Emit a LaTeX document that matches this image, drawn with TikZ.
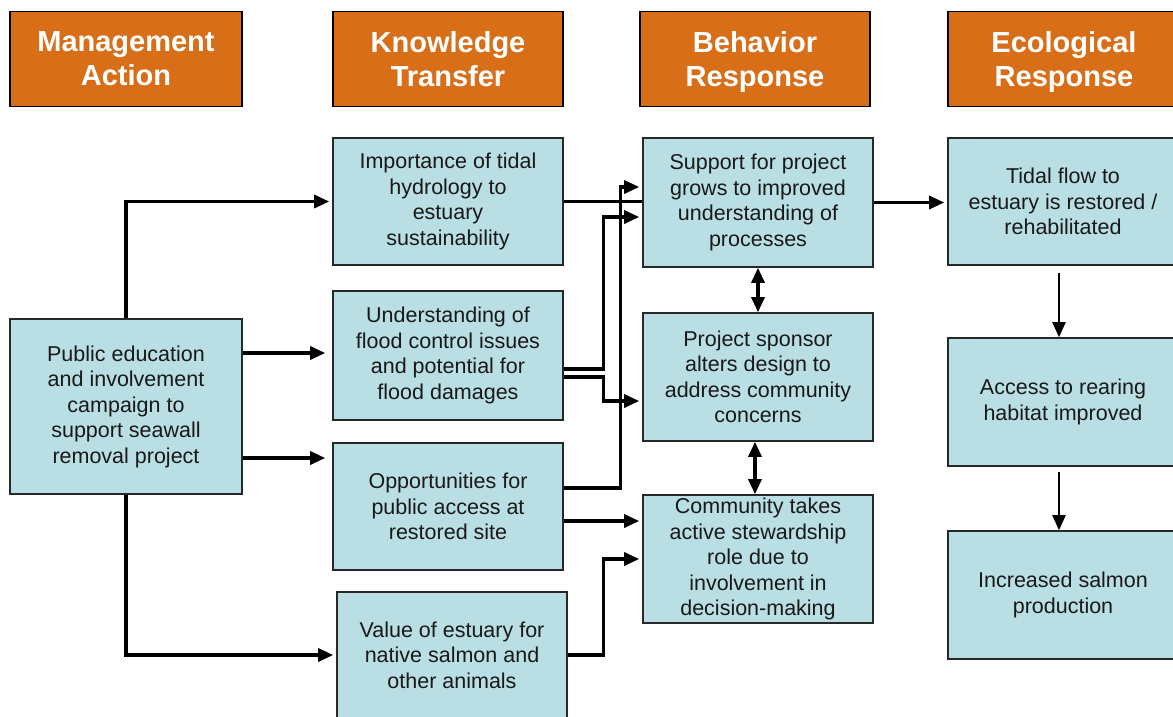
\documentclass[tikz,border=0pt]{standalone}
\usepackage{fontspec}
\setsansfont{Liberation Sans}
\usetikzlibrary{arrows.meta}
\definecolor{HeadColor}{RGB}{216,111,24}
\definecolor{BoxColor}{RGB}{185,222,228}
\definecolor{EdgeColor}{RGB}{40,40,40}
\newcommand{\XMgmt}{126}
\newcommand{\XKnow}{448}
\newcommand{\XBehav}{758}
\newcommand{\XEcol}{1063}
\newcommand{\YHead}{59}
\newcommand{\YTop}{201.5}

\begin{document}
\begin{tikzpicture}[
  x=1pt, y=-1pt,
  >={Triangle[length=15pt,width=13pt]},
  header/.style={rectangle,draw=black,line width=1.8pt,fill=HeadColor,text=white,
    font=\sffamily\bfseries\fontsize{29}{34}\selectfont,align=center,
    minimum width=232pt,minimum height=95pt,inner sep=0pt},
  box/.style={rectangle,draw=EdgeColor,line width=1.6pt,fill=BoxColor,text=black!90,
    font=\sffamily\fontsize{21.5}{25.5}\selectfont,align=center,
    minimum width=230pt,minimum height=128pt,inner sep=0pt},
  link/.style={line width=3.2pt,->,shorten >=3pt},
  twoway/.style={line width=3.2pt,<->}
]
\useasboundingbox (0,0) rectangle (1173,717);
\clip (0,0) rectangle (1173,717);

% Column headers
\node[header] (hMgmt) at (\XMgmt,\YHead) {Management\\Action};
\node[header,minimum width=230pt] (hKnow) at (\XKnow,\YHead) {Knowledge\\Transfer};
\node[header,minimum width=230pt] (hBehav) at (755,\YHead) {Behavior\\\smash{Response}};
\node[header] (hEcol) at (1064,\YHead) {Ecological\\\smash{Response}};

% Boxes
\node[box,minimum width=232pt,minimum height=175pt] (mgmt) at (\XMgmt,406.5)
  {Public education\\and involvement\\campaign to\\support seawall\\removal project};
\node[box,minimum height=127pt] (know1) at (\XKnow,\YTop)
  {Importance of tidal\\hydrology to\\estuary\\sustainability};
\node[box,minimum height=129pt] (know2) at (\XKnow,355.5)
  {Understanding of\\flood control issues\\and potential for\\flood damages};
\node[box,minimum height=127pt] (know3) at (\XKnow,506.5)
  {Opportunities for\\public access at\\restored site};
\node[box,minimum height=126pt] (know4) at (452,655)
  {Value of estuary for\\native salmon and\\other animals};
\node[box,minimum height=129pt] (behav1) at (\XBehav,202.5)
  {Support for project\\grows to improved\\understanding of\\processes};
\node[box] (behav2) at (\XBehav,377)
  {Project sponsor\\alters design to\\address community\\concerns};
\node[box] (behav3) at (\XBehav,559)
  {Community takes\\active stewardship\\role due to\\involvement in\\decision-making};
\node[box,minimum height=127pt] (ecol1) at (\XEcol,\YTop)
  {Tidal flow to\\estuary is restored /\\rehabilitated};
\node[box] (ecol2) at (\XEcol,402) {Access to rearing\\habitat improved};
\node[box] (ecol3) at (\XEcol,595) {Increased salmon\\production};

% Management action to knowledge transfer
\draw[link] (mgmt.north) |- (know1.west);
\draw[link,shorten >=7pt] ([yshift=53.5pt]mgmt.east) -- ([yshift=53.5pt]mgmt.east -| know2.west);
\draw[link,shorten >=7pt] ([yshift=-51.5pt]mgmt.east) -- ([yshift=-51.5pt]mgmt.east -| know3.west);
\draw[link] (mgmt.south) |- (know4.west);

% Knowledge transfer to behavior response
\draw[line width=3.2pt] (know1.east) -- (know1.east -| behav1.west);
\draw[link] ([yshift=-13.5pt]know2.east) -- ++(40,0) |- ([yshift=-14.5pt]behav1.west);
\draw[link] ([yshift=-21.5pt]know2.east) -- ++(40,0) |- ([yshift=-24pt]behav2.west);
\draw[link] ([yshift=18.5pt]know3.east) -- ++(57,0) |- ([yshift=15.5pt]behav1.west);
\draw[link] ([yshift=-14.5pt]know3.east) -- ([yshift=-14.5pt]know3.east -| behav3.west);
\draw[link] (know4.east) -- ++(36,0) |- (behav3.west);

% Behavior response
\draw[twoway] (behav1.south) -- (behav2.north);
\draw[twoway] ([xshift=-3pt]behav2.south) -- ([xshift=-3pt]behav3.north);
\draw[link] (behav1.east) -- (behav1.east -| ecol1.west);

% Ecological response
\draw[link,line width=2.2pt,shorten <=7pt,shorten >=0pt] ([xshift=-4pt]ecol1.south) -- ([xshift=-4pt]ecol2.north);
\draw[link,line width=2.2pt,shorten <=5pt,shorten >=0pt] ([xshift=-4pt]ecol2.south) -- ([xshift=-4pt]ecol3.north);

\end{tikzpicture}
\end{document}
